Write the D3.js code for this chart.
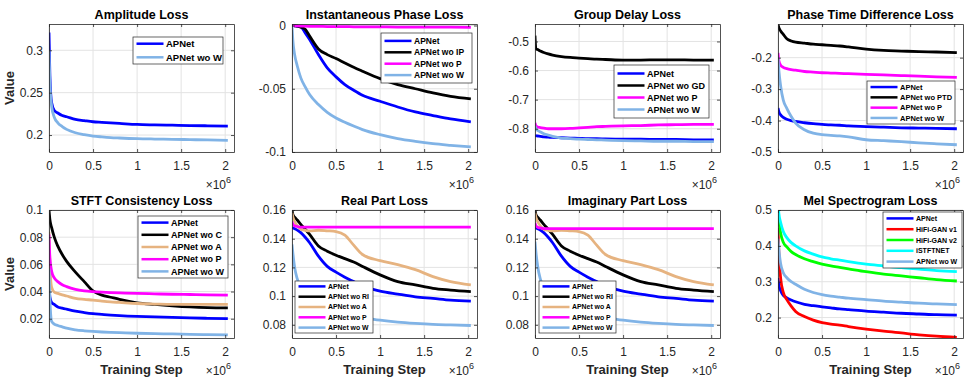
<!DOCTYPE html>
<html>
<head>
<meta charset="utf-8">
<script src="https://cdn.jsdelivr.net/npm/d3@7"></script>
<style>
  body { margin: 0; background: #fff; }
  svg { display: block; font-family: 'Liberation Sans', Arial, sans-serif; }
</style>
</head>
<body>
<div id="chart"></div>
<script>
// training steps (x 10^6), shared by every curve
const steps = [0, 0.01, 0.03, 0.06, 0.1, 0.15, 0.2, 0.3, 0.4, 0.5, 0.6, 0.7, 0.8, 1.0, 1.2, 1.4, 1.6, 1.8, 2.03];
const xTicks = [0, 0.5, 1, 1.5, 2];

// Amplitude loss
const ampAPNet = [0.321, 0.27, 0.238, 0.229, 0.226, 0.223, 0.2216, 0.2184, 0.217, 0.2157, 0.215, 0.2143, 0.2137, 0.2125, 0.212, 0.2116, 0.2112, 0.2109, 0.2106];
const ampWoW   = [0.3, 0.262, 0.234, 0.221, 0.2145, 0.21, 0.2067, 0.2027, 0.2005, 0.1988, 0.1978, 0.197, 0.1965, 0.1957, 0.1953, 0.195, 0.1946, 0.1942, 0.1937];
const ampTicks = [0.2, 0.25, 0.3];

// Instantaneous phase loss
const ipAPNet = [0, 0, -0.0002, -0.0005, -0.001, -0.0058, -0.011, -0.023, -0.0335, -0.0406, -0.0467, -0.0512, -0.0552, -0.0599, -0.0644, -0.0683, -0.0712, -0.0739, -0.0762];
const ipWoIP  = [0, 0, -0.0002, -0.0005, -0.0013, -0.003, -0.0084, -0.0185, -0.023, -0.0261, -0.0296, -0.033, -0.0361, -0.042, -0.0467, -0.05, -0.0533, -0.056, -0.058];
const ipWoP   = [0, 0, -0.0002, -0.0003, -0.0004, -0.0005, -0.0006, -0.0007, -0.0008, -0.0009, -0.0009, -0.001, -0.001, -0.0011, -0.0012, -0.0012, -0.0013, -0.0013, -0.0014];
const ipWoW   = [0, -0.012, -0.023, -0.032, -0.0414, -0.0485, -0.0546, -0.0625, -0.0686, -0.0731, -0.0765, -0.0795, -0.0823, -0.0863, -0.0894, -0.0916, -0.0934, -0.0947, -0.096];
const ipTicks = [-0.1, -0.05, 0];

// Group delay loss
const gdAPNet = [-0.822, -0.824, -0.825, -0.826, -0.828, -0.829, -0.83, -0.831, -0.832, -0.833, -0.834, -0.834, -0.835, -0.836, -0.836, -0.837, -0.837, -0.838, -0.838];
const gdWoGD  = [-0.48, -0.525, -0.528, -0.533, -0.538, -0.543, -0.547, -0.552, -0.555, -0.557, -0.559, -0.561, -0.562, -0.564, -0.564, -0.563, -0.563, -0.564, -0.564];
const gdWoP   = [-0.78, -0.79, -0.794, -0.796, -0.798, -0.8, -0.8, -0.8, -0.799, -0.797, -0.795, -0.793, -0.792, -0.79, -0.789, -0.787, -0.786, -0.785, -0.785];
const gdWoW   = [-0.79, -0.8, -0.806, -0.811, -0.817, -0.822, -0.826, -0.832, -0.834, -0.836, -0.837, -0.838, -0.839, -0.841, -0.842, -0.843, -0.843, -0.844, -0.844];
const gdTicks = [-0.8, -0.7, -0.6, -0.5];

// Phase time difference loss
const ptdAPNet = [-0.36, -0.372, -0.382, -0.39, -0.396, -0.4, -0.403, -0.407, -0.41, -0.412, -0.414, -0.415, -0.417, -0.419, -0.421, -0.423, -0.424, -0.425, -0.426];
const ptdWoPTD = [-0.095, -0.105, -0.115, -0.126, -0.14, -0.147, -0.151, -0.154, -0.157, -0.159, -0.161, -0.163, -0.166, -0.173, -0.177, -0.179, -0.181, -0.182, -0.184];
const ptdWoP   = [-0.185, -0.21, -0.224, -0.231, -0.235, -0.238, -0.24, -0.244, -0.246, -0.248, -0.249, -0.25, -0.251, -0.253, -0.255, -0.257, -0.259, -0.261, -0.263];
const ptdWoW   = [-0.2, -0.24, -0.29, -0.335, -0.361, -0.387, -0.408, -0.429, -0.44, -0.445, -0.447, -0.449, -0.452, -0.461, -0.464, -0.467, -0.471, -0.474, -0.477];
const ptdTicks = [-0.5, -0.4, -0.3, -0.2];

// STFT consistency loss
const stftAPNet = [0.045, 0.036, 0.032, 0.0305, 0.0287, 0.0278, 0.027, 0.0255, 0.0245, 0.0237, 0.0232, 0.0227, 0.0223, 0.0217, 0.0213, 0.021, 0.0206, 0.0203, 0.02];
const stftWoC   = [0.1, 0.093, 0.087, 0.08, 0.0734, 0.0672, 0.0622, 0.0543, 0.0473, 0.0404, 0.0374, 0.0358, 0.0342, 0.0317, 0.0305, 0.0295, 0.0287, 0.0282, 0.028];
const stftWoA   = [0.084, 0.06, 0.043, 0.0395, 0.0386, 0.0376, 0.0367, 0.0349, 0.0342, 0.0337, 0.033, 0.0324, 0.032, 0.0312, 0.0308, 0.0305, 0.0305, 0.0305, 0.0305];
const stftWoP   = [0.082, 0.065, 0.055, 0.05, 0.0473, 0.045, 0.0436, 0.0416, 0.0405, 0.0399, 0.0395, 0.0392, 0.039, 0.0386, 0.0383, 0.038, 0.0378, 0.0376, 0.0374];
const stftWoW   = [0.057, 0.035, 0.018, 0.016, 0.015, 0.014, 0.013, 0.0118, 0.0111, 0.0106, 0.0102, 0.0099, 0.0097, 0.0093, 0.009, 0.0088, 0.0085, 0.0083, 0.0081];
const stftTicks = [0.02, 0.04, 0.06, 0.08, 0.1];

// Real part loss
const reAPNet = [0.148, 0.1475, 0.147, 0.146, 0.1442, 0.141, 0.1372, 0.1278, 0.1207, 0.1167, 0.1132, 0.1101, 0.107, 0.1035, 0.1014, 0.0995, 0.0984, 0.0972, 0.0965];
const reWoRI  = [0.16, 0.157, 0.155, 0.153, 0.15, 0.1466, 0.143, 0.1349, 0.1313, 0.1285, 0.1261, 0.1238, 0.1207, 0.1148, 0.1101, 0.1078, 0.1054, 0.1042, 0.1031];
const reWoA   = [0.158, 0.155, 0.152, 0.149, 0.1466, 0.1458, 0.1454, 0.1459, 0.1455, 0.145, 0.1425, 0.1355, 0.129, 0.1247, 0.1219, 0.1184, 0.1136, 0.1101, 0.1078];
const reWoP   = [0.152, 0.15, 0.149, 0.1485, 0.148, 0.148, 0.148, 0.148, 0.148, 0.148, 0.148, 0.148, 0.148, 0.148, 0.148, 0.148, 0.148, 0.148, 0.148];
const reWoW   = [0.136, 0.13, 0.12, 0.112, 0.106, 0.102, 0.099, 0.095, 0.092, 0.0895, 0.0875, 0.086, 0.085, 0.0832, 0.0819, 0.081, 0.0803, 0.0799, 0.0795];

// Imaginary part loss
const imAPNet = [0.148, 0.1475, 0.147, 0.146, 0.1442, 0.141, 0.1372, 0.1278, 0.1207, 0.1167, 0.1132, 0.1101, 0.107, 0.1035, 0.1014, 0.0995, 0.0984, 0.0972, 0.0965];
const imWoRI  = [0.16, 0.157, 0.155, 0.153, 0.15, 0.1466, 0.143, 0.1349, 0.1313, 0.1285, 0.1261, 0.1238, 0.1207, 0.1148, 0.1101, 0.1078, 0.1054, 0.1042, 0.1031];
const imWoA   = [0.158, 0.155, 0.152, 0.149, 0.1466, 0.1458, 0.1454, 0.1459, 0.1455, 0.145, 0.1425, 0.1355, 0.129, 0.1247, 0.1219, 0.1184, 0.1136, 0.1101, 0.1078];
const imWoP   = [0.151, 0.149, 0.148, 0.1475, 0.147, 0.147, 0.147, 0.147, 0.147, 0.147, 0.147, 0.147, 0.147, 0.147, 0.147, 0.147, 0.147, 0.147, 0.147];
const imWoW   = [0.138, 0.131, 0.121, 0.112, 0.106, 0.102, 0.099, 0.095, 0.092, 0.0895, 0.0875, 0.086, 0.085, 0.0832, 0.0819, 0.081, 0.0803, 0.0799, 0.0795];
const partTicks = [0.08, 0.1, 0.12, 0.14, 0.16];

// Mel spectrogram loss
const melAPNet   = [0.31, 0.29, 0.275, 0.262, 0.255, 0.249, 0.244, 0.237, 0.233, 0.23, 0.227, 0.224, 0.222, 0.218, 0.215, 0.212, 0.21, 0.208, 0.207];
const melHifiV1  = [0.45, 0.38, 0.31, 0.27, 0.25, 0.232, 0.217, 0.203, 0.193, 0.186, 0.182, 0.179, 0.175, 0.168, 0.162, 0.157, 0.152, 0.148, 0.145];
const melHifiV2  = [0.5, 0.47, 0.435, 0.41, 0.397, 0.384, 0.376, 0.364, 0.356, 0.349, 0.344, 0.34, 0.336, 0.328, 0.321, 0.316, 0.311, 0.306, 0.302];
const melIstft   = [0.52, 0.49, 0.465, 0.44, 0.423, 0.409, 0.4, 0.386, 0.377, 0.369, 0.364, 0.36, 0.356, 0.349, 0.344, 0.339, 0.335, 0.331, 0.328];
const melWoW     = [0.42, 0.39, 0.35, 0.325, 0.311, 0.3, 0.293, 0.279, 0.27, 0.264, 0.26, 0.257, 0.254, 0.25, 0.246, 0.243, 0.24, 0.238, 0.236];
const melTicks = [0.2, 0.3, 0.4, 0.5];

const BLUE = '#0000ff', LBLUE = '#80b3e6', BLACK = '#000000', MAG = '#ff00ff',
      TAN = '#e6b380', RED = '#ff0000', GREEN = '#00ff00', CYAN = '#00ffff';

// legend boxes are in page pixels: x, y, width, height, row height, font size
const panels = [
  { title: 'Amplitude Loss', yDom: [0.18, 0.331], yTicks: ampTicks,
    leg: [133, 37, 90, 27, 13.6, 9.5],
    series: [['APNet', BLUE, ampAPNet], ['APNet wo W', LBLUE, ampWoW]] },
  { title: 'Instantaneous Phase Loss', yDom: [-0.1, 0.0012], yTicks: ipTicks,
    leg: [381, 33, 91, 50, 11.4, 8.5],
    series: [['APNet', BLUE, ipAPNet], ['APNet wo IP', BLACK, ipWoIP], ['APNet wo P', MAG, ipWoP], ['APNet wo W', LBLUE, ipWoW]] },
  { title: 'Group Delay Loss', yDom: [-0.88, -0.44], yTicks: gdTicks,
    leg: [614, 65, 95, 53, 12, 9],
    series: [['APNet', BLUE, gdAPNet], ['APNet wo GD', BLACK, gdWoGD], ['APNet wo P', MAG, gdWoP], ['APNet wo W', LBLUE, gdWoW]] },
  { title: 'Phase Time Difference Loss', yDom: [-0.5, -0.093], yTicks: ptdTicks,
    leg: [867, 81, 88, 43, 10.3, 7.5],
    series: [['APNet', BLUE, ptdAPNet], ['APNet wo PTD', BLACK, ptdWoPTD], ['APNet wo P', MAG, ptdWoP], ['APNet wo W', LBLUE, ptdWoW]] },
  { title: 'STFT Consistency Loss', yDom: [0.0058, 0.1], yTicks: stftTicks,
    leg: [138, 216, 90, 62, 12.2, 9],
    series: [['APNet', BLUE, stftAPNet], ['APNet wo C', BLACK, stftWoC], ['APNet wo A', TAN, stftWoA], ['APNet wo P', MAG, stftWoP], ['APNet wo W', LBLUE, stftWoW]] },
  { title: 'Real Part Loss', yDom: [0.0708, 0.16], yTicks: partTicks,
    leg: [295, 281, 78, 52, 10.3, 6.9],
    series: [['APNet', BLUE, reAPNet], ['APNet wo RI', BLACK, reWoRI], ['APNet wo A', TAN, reWoA], ['APNet wo P', MAG, reWoP], ['APNet wo W', LBLUE, reWoW]] },
  { title: 'Imaginary Part Loss', yDom: [0.0708, 0.16], yTicks: partTicks,
    leg: [539, 281, 77, 52, 10.3, 6.9],
    series: [['APNet', BLUE, imAPNet], ['APNet wo RI', BLACK, imWoRI], ['APNet wo A', TAN, imWoA], ['APNet wo P', MAG, imWoP], ['APNet wo W', LBLUE, imWoW]] },
  { title: 'Mel Spectrogram Loss', yDom: [0.143, 0.5], yTicks: melTicks,
    leg: [883, 212, 79, 56, 10.8, 7],
    series: [['APNet', BLUE, melAPNet], ['HiFi-GAN v1', RED, melHifiV1], ['HiFi-GAN v2', GREEN, melHifiV2], ['iSTFTNET', CYAN, melIstft], ['APNet wo W', LBLUE, melWoW]] }
];

const width = 972;
const height = 381;
const colX = [49, 292, 535, 778];
const rowY = [24, 210];
const pw = 185;
const ph = 128;
const axisColor = '#262626';

const svg = d3.select('#chart')
              .append('svg')
              .attr('width', width)
              .attr('height', height);

panels.forEach((p, i) => {
  const ox = colX[i % 4];
  const oy = rowY[Math.floor(i / 4)];
  const g = svg.append('g').attr('transform', `translate(${ox},${oy})`);

  const x = d3.scaleLinear().domain([0, 2.1e6]).range([0, pw]);
  const y = d3.scaleLinear().domain(p.yDom).range([ph, 0]);

  // grid
  g.append('g').selectAll('line')
    .data(xTicks)
    .join('line')
    .attr('x1', (d) => x(d * 1e6)).attr('x2', (d) => x(d * 1e6))
    .attr('y1', 0).attr('y2', ph)
    .attr('stroke', '#e3e3e3');
  g.append('g').selectAll('line')
    .data(p.yTicks)
    .join('line')
    .attr('x1', 0).attr('x2', pw)
    .attr('y1', (d) => y(d)).attr('y2', (d) => y(d))
    .attr('stroke', '#e3e3e3');

  // curves
  g.append('clipPath').attr('id', 'clip' + i)
    .append('rect').attr('width', pw).attr('height', ph);

  const line = d3.line()
                 .x((d, j) => x(steps[j] * 1e6))
                 .y((d) => y(d))
                 .curve(d3.curveMonotoneX);

  g.append('g').attr('clip-path', `url(#clip${i})`)
    .selectAll('path')
    .data(p.series)
    .join('path')
    .attr('d', (d) => line(d[2]))
    .attr('fill', 'none')
    .attr('stroke', (d) => d[1])
    .attr('stroke-width', 2.8)
    .attr('stroke-linejoin', 'round');

  // axes (box with inward ticks on all four sides)
  const styleAxis = (sel) => {
    sel.select('.domain').attr('stroke', axisColor).attr('stroke-width', 0.8);
    sel.selectAll('.tick line').attr('stroke', axisColor).attr('stroke-width', 0.8);
    sel.selectAll('.tick text').attr('fill', axisColor).style('font-size', '12px');
  };

  g.append('g')
    .attr('transform', `translate(0,${ph})`)
    .call(d3.axisBottom(x).tickValues(xTicks.map((d) => d * 1e6))
      .tickFormat((d) => String(d / 1e6)).tickSizeInner(-3).tickSizeOuter(0).tickPadding(9))
    .call(styleAxis);
  g.append('g')
    .call(d3.axisTop(x).tickValues(xTicks.map((d) => d * 1e6))
      .tickFormat('').tickSizeInner(-3).tickSizeOuter(0))
    .call(styleAxis);
  g.append('g')
    .call(d3.axisLeft(y).tickValues(p.yTicks)
      .tickFormat((d) => String(d)).tickSizeInner(-3).tickSizeOuter(0).tickPadding(6))
    .call(styleAxis);
  g.append('g')
    .attr('transform', `translate(${pw},0)`)
    .call(d3.axisRight(y).tickValues(p.yTicks)
      .tickFormat('').tickSizeInner(-3).tickSizeOuter(0))
    .call(styleAxis);

  // title
  g.append('text')
    .attr('x', pw / 2).attr('y', -5)
    .attr('text-anchor', 'middle')
    .style('font-size', '12.5px').style('font-weight', 'bold')
    .text(p.title);

  // x 10^6
  const mult = g.append('text')
    .attr('x', pw - 3).attr('y', ph + 36.5)
    .attr('text-anchor', 'end')
    .attr('fill', axisColor)
    .style('font-size', '12px');
  mult.append('tspan').text('\u00d710');
  mult.append('tspan').attr('dy', -6).style('font-size', '9px').text('6');

  if (i % 4 === 0) {
    g.append('text')
      .attr('transform', `translate(${14 - ox},${ph / 2}) rotate(-90)`)
      .attr('text-anchor', 'middle')
      .style('font-size', '13px').style('font-weight', 'bold')
      .attr('fill', axisColor)
      .text('Value');
  }
  if (i >= 4) {
    g.append('text')
      .attr('x', pw / 2).attr('y', ph + 36)
      .attr('text-anchor', 'middle')
      .style('font-size', '13px').style('font-weight', 'bold')
      .attr('fill', axisColor)
      .text('Training Step');
  }

  // legend
  const [lx, ly, lw, lh, rh, fs] = p.leg;
  const leg = svg.append('g').attr('transform', `translate(${lx},${ly})`);
  leg.append('rect')
    .attr('width', lw).attr('height', lh)
    .attr('fill', '#fff')
    .attr('stroke', axisColor).attr('stroke-width', 0.7);
  const top = (lh - rh * p.series.length) / 2 + rh / 2;
  const item = leg.selectAll('g.item')
    .data(p.series)
    .join('g')
    .attr('class', 'item')
    .attr('transform', (d, k) => `translate(0,${top + k * rh})`);
  item.append('line')
    .attr('x1', 3.5).attr('x2', 30.5)
    .attr('stroke', (d) => d[1]).attr('stroke-width', 2.5);
  item.append('text')
    .attr('x', 33).attr('y', fs * 0.36)
    .style('font-size', fs + 'px').style('font-weight', 'bold')
    .text((d) => d[0]);
});
</script>
</body>
</html>
